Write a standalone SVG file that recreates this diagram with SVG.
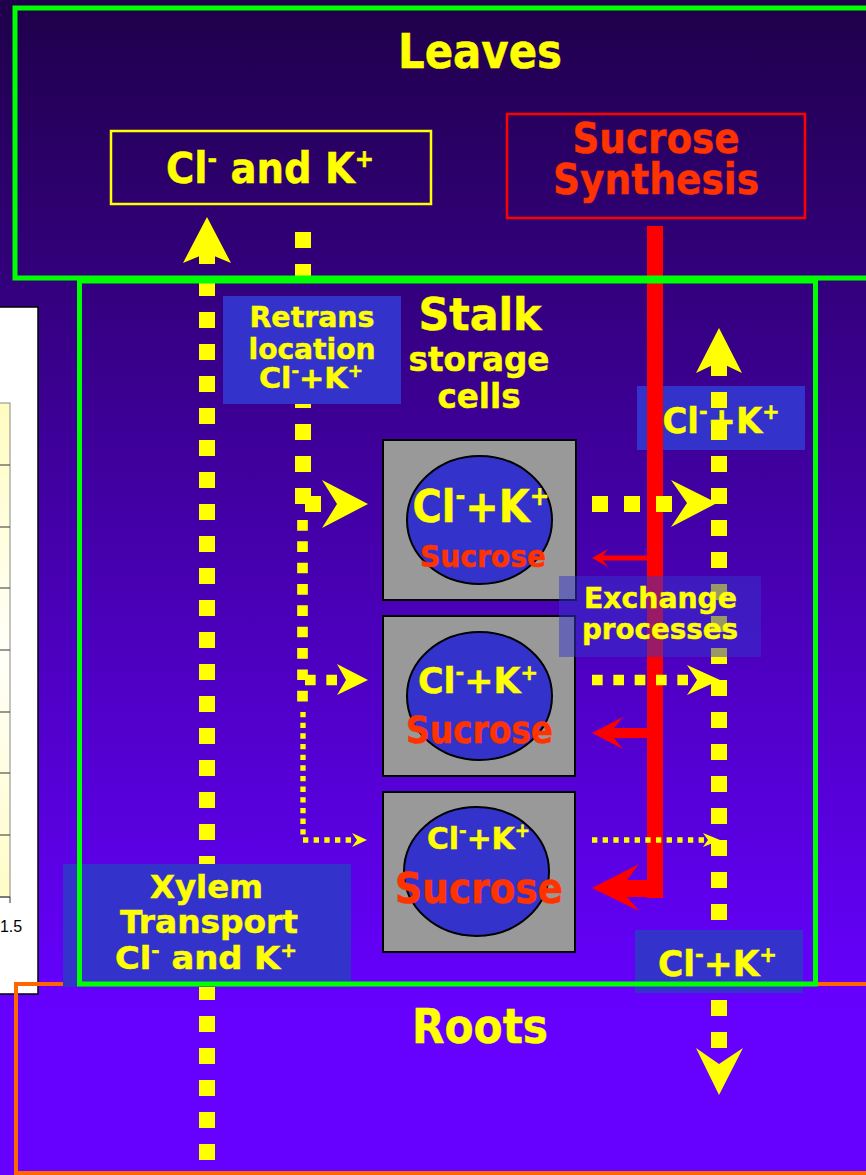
<svg xmlns="http://www.w3.org/2000/svg" width="866" height="1175" viewBox="0 0 866 1175">
<defs>
<linearGradient id="bg" x1="0" y1="0" x2="0" y2="1175" gradientUnits="userSpaceOnUse">
<stop offset="0" stop-color="#1f004a"/>
<stop offset="0.86" stop-color="#6600ff"/>
<stop offset="1" stop-color="#6600ff"/>
</linearGradient>
<linearGradient id="plot" x1="0" y1="403" x2="0" y2="897" gradientUnits="userSpaceOnUse">
<stop offset="0" stop-color="#fffcc0"/>
<stop offset="0.5" stop-color="#fffff8"/>
<stop offset="1" stop-color="#fffcc8"/>
</linearGradient>
<style>
.t{font-family:"DejaVu Sans",Verdana,sans-serif;font-weight:bold;fill:#ffff00;stroke:#ffff00;stroke-width:0.5;text-anchor:middle}
.r{fill:#ff3300;stroke:#ff3300}
.lab{fill:#3333cc}
.cell{fill:#999999;stroke:#000;stroke-width:2}
.nuc{fill:#3333cc;stroke:#000;stroke-width:2}
.d1{stroke:#ffff00;stroke-width:16;stroke-dasharray:16 16;fill:none}
.d2{stroke:#ffff00;stroke-width:10.67;stroke-dasharray:10.67 10.67;fill:none}
.d3{stroke:#ffff00;stroke-width:5.33;stroke-dasharray:5.33 5.33;fill:none}
.ah{fill:#ffff00}
.rd{fill:#ff0000}
.grid{stroke:#333;stroke-width:1}
</style>
</defs>
<rect x="0" y="0" width="866" height="1175" fill="url(#bg)"/>

<g id="chart">
<rect x="-2" y="307" width="40" height="687" fill="#fff" stroke="#000" stroke-width="1.5"/>
<rect x="-2" y="403" width="12" height="494" fill="url(#plot)" stroke="#888" stroke-width="1"/>
<g class="grid">
<line x1="-2" y1="465" x2="10" y2="465"/><line x1="-2" y1="527" x2="10" y2="527"/>
<line x1="-2" y1="588" x2="10" y2="588"/><line x1="-2" y1="650" x2="10" y2="650"/>
<line x1="-2" y1="712" x2="10" y2="712"/><line x1="-2" y1="773" x2="10" y2="773"/>
<line x1="-2" y1="835" x2="10" y2="835"/><line x1="-2" y1="897" x2="10" y2="897"/>
<line x1="10" y1="897" x2="10" y2="903"/>
</g>
<text x="11" y="932" font-family="Liberation Sans,Arial,sans-serif" font-size="16" text-anchor="middle" fill="#000">1.5</text>
</g>

<g id="roots">
<rect x="16" y="984" width="870" height="189" fill="none" stroke="#ff6600" stroke-width="4"/>
<text class="t" x="480" y="1043" font-size="48" textLength="136" lengthAdjust="spacingAndGlyphs">Roots</text>
</g>

<g id="topright-label">
<rect class="lab" x="637" y="386" width="168" height="64"/>
</g>

<g id="connectors">
<rect class="rd" x="647" y="226" width="16" height="672"/>
<path class="rd" d="M592,558 L608,549 L603,555.5 L647,555.5 L647,560.5 L603,560.5 L608,567 Z"/>
<path class="rd" d="M592,733 L623,717 L614,728 L647,728 L647,738 L614,738 L623,749 Z"/>
<path class="rd" d="M592,888 L639,864 L627,880 L663,880 L663,897 L627,897 L639,911 Z"/>

<path class="d1" d="M207,1160 V248"/>
<path class="ah" d="M207,217 L231,263 L207,253 L183,263 Z"/>

<path class="d1" d="M719,360 V1048"/>
<path class="ah" d="M719,328 L742,373 L719,362 L696,373 Z"/>
<path class="ah" d="M719,1095 L743,1048 L719,1064 L696,1048 Z"/>

<path class="d1" d="M303,232 V504"/>
<path class="d1" d="M305,504 H321"/>
<path class="ah" d="M368,504 L322,480 L337,504 L322,528 Z"/>
<path class="d2" d="M302.5,520 V702"/>
<path class="d2" d="M305,680 H338"/>
<path class="ah" d="M368,680 L337,664 L346,680 L337,695 Z"/>
<path class="d3" d="M303,712 V835"/>
<path class="d3" d="M303,840 H351"/>
<path class="ah" d="M367,840 L352,833 L357,840 L352,847 Z"/>

<path class="d1" d="M592,504 H672"/>
<path class="ah" d="M717,503 L671,480 L687,503 L671,527 Z"/>
<path class="d2" d="M592,680 H688"/>
<path class="ah" d="M720,680 L687,665 L697,680 L687,695 Z"/>
<path class="d3" d="M592,840 H704"/>
<path class="ah" d="M720,840 L703,833 L708,840 L703,847 Z"/>
</g>

<g id="retrans">
<rect class="lab" x="223" y="296" width="178" height="108"/>
<text class="t" x="312" y="327" font-size="28" textLength="125" lengthAdjust="spacingAndGlyphs">Retrans</text>
<text class="t" x="312" y="359" font-size="28" textLength="127" lengthAdjust="spacingAndGlyphs">location</text>
<text class="t" x="311" y="388" font-size="28" textLength="104" lengthAdjust="spacingAndGlyphs">Cl<tspan font-size="17" dy="-11">-</tspan><tspan dy="11">+K</tspan><tspan font-size="17" dy="-11">+</tspan></text>
</g>

<g id="topright-text">
<text class="t" x="721" y="433" font-size="36" textLength="117" lengthAdjust="spacingAndGlyphs">Cl<tspan font-size="22" dy="-14">-</tspan><tspan dy="14">+K</tspan><tspan font-size="22" dy="-14">+</tspan></text>
</g>

<g id="cell1">
<rect class="cell" x="383" y="440" width="193" height="160"/>
<ellipse class="nuc" cx="479.5" cy="520" rx="72.5" ry="64"/>
<text class="t" x="481" y="522" font-size="44" textLength="137" lengthAdjust="spacingAndGlyphs">Cl<tspan font-size="26" dy="-17">-</tspan><tspan dy="17">+K</tspan><tspan font-size="26" dy="-17">+</tspan></text>
<text class="t r" x="483" y="567" font-size="31" textLength="126" lengthAdjust="spacingAndGlyphs">Sucrose</text>
</g>

<g id="cell2">
<rect class="cell" x="383" y="616" width="192" height="160"/>
<ellipse class="nuc" cx="479.5" cy="696" rx="72.5" ry="64"/>
<text class="t" x="478" y="693" font-size="35" textLength="120" lengthAdjust="spacingAndGlyphs">Cl<tspan font-size="21" dy="-13">-</tspan><tspan dy="13">+K</tspan><tspan font-size="21" dy="-13">+</tspan></text>
<text class="t r" x="479.5" y="743" font-size="37" textLength="147" lengthAdjust="spacingAndGlyphs">Sucrose</text>
</g>

<g id="cell3">
<rect class="cell" x="383" y="792" width="192" height="160"/>
<ellipse class="nuc" cx="476.5" cy="871.5" rx="72.5" ry="64.5"/>
<text class="t" x="478.5" y="849" font-size="31" textLength="103" lengthAdjust="spacingAndGlyphs">Cl<tspan font-size="19" dy="-12">-</tspan><tspan dy="12">+K</tspan><tspan font-size="19" dy="-12">+</tspan></text>
<text class="t r" x="479" y="903" font-size="42" textLength="168" lengthAdjust="spacingAndGlyphs">Sucrose</text>
</g>

<g id="exchange">
<rect class="lab" x="559" y="576" width="202" height="81" fill-opacity="0.5"/>
<text class="t" x="660.5" y="608" font-size="29" textLength="153" lengthAdjust="spacingAndGlyphs">Exchange</text>
<text class="t" x="660" y="639" font-size="29" textLength="156" lengthAdjust="spacingAndGlyphs">processes</text>
</g>

<g id="xylem">
<rect class="lab" x="63" y="864" width="288" height="123"/>
</g>

<g id="bottomright">
<rect class="lab" x="635" y="930" width="168" height="63"/>
</g>

<g id="frames">
<rect x="15" y="8" width="860" height="270" fill="none" stroke="#00ff00" stroke-width="5"/>
<rect x="79.5" y="281" width="736" height="703" fill="none" stroke="#00ff00" stroke-width="5"/>
</g>

<g id="xylem-text">
<text class="t" x="206.5" y="898" font-size="32" textLength="113" lengthAdjust="spacingAndGlyphs">Xylem</text>
<text class="t" x="209" y="933" font-size="32" textLength="178" lengthAdjust="spacingAndGlyphs">Transport</text>
<text class="t" x="206" y="969" font-size="32" textLength="182" lengthAdjust="spacingAndGlyphs">Cl<tspan font-size="19" dy="-12">-</tspan><tspan dy="12"> and K</tspan><tspan font-size="19" dy="-12">+</tspan></text>
</g>

<g id="bottomright-text">
<text class="t" x="717.5" y="976" font-size="36" textLength="119" lengthAdjust="spacingAndGlyphs">Cl<tspan font-size="22" dy="-14">-</tspan><tspan dy="14">+K</tspan><tspan font-size="22" dy="-14">+</tspan></text>
</g>

<g id="leaves">
<text class="t" x="480" y="68" font-size="48" textLength="164" lengthAdjust="spacingAndGlyphs">Leaves</text>
</g>

<g id="cl-k-leaf">
<rect x="111" y="131" width="320" height="73" fill="none" stroke="#ffff00" stroke-width="2.5"/>
<text class="t" x="270" y="183" font-size="42" textLength="208" lengthAdjust="spacingAndGlyphs">Cl<tspan font-size="25" dy="-16">-</tspan><tspan dy="16"> and K</tspan><tspan font-size="25" dy="-16">+</tspan></text>
</g>

<g id="sucrose-synthesis">
<rect x="507" y="114" width="298" height="104" fill="none" stroke="#ff0000" stroke-width="2.5"/>
<text class="t r" x="656" y="153" font-size="42" textLength="167" lengthAdjust="spacingAndGlyphs">Sucrose</text>
<text class="t r" x="656" y="194" font-size="42" textLength="206" lengthAdjust="spacingAndGlyphs">Synthesis</text>
</g>

<g id="stalk">
<text class="t" x="480" y="330" font-size="44" textLength="123" lengthAdjust="spacingAndGlyphs">Stalk</text>
<text class="t" x="479" y="371" font-size="33" textLength="141" lengthAdjust="spacingAndGlyphs">storage</text>
<text class="t" x="479" y="408" font-size="33" textLength="83" lengthAdjust="spacingAndGlyphs">cells</text>
</g>
</svg>
